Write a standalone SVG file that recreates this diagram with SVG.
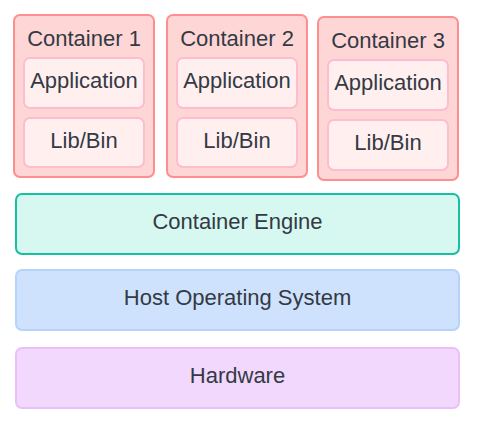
<svg xmlns="http://www.w3.org/2000/svg" width="478" height="425" viewBox="0 0 478 425">
<style>
text{font-family:"Liberation Sans",Arial,sans-serif;font-size:22px;fill:#333a44;text-anchor:middle;dominant-baseline:central}
.ctr{fill:#ffd6d6;stroke:#ff8e8e;stroke-width:2}
.inner{fill:#ffefef;stroke:#ffbccf;stroke-width:2}
.eng{fill:#d6f8f1;stroke:#17c0a0;stroke-width:2}
.os{fill:#cfe2fd;stroke:#b5d4fb;stroke-width:2}
.hw{fill:#f2d8fd;stroke:#ebbffa;stroke-width:2}
</style>
<rect width="478" height="425" fill="#ffffff"/>
<g id="container1">
<rect class="ctr" x="14" y="15" width="140" height="162" rx="6"/>
<text x="84" y="38">Container 1</text>
<g id="app1"><rect class="inner" x="24" y="58" width="120" height="50" rx="6"/><text x="84" y="80">Application</text></g>
<g id="lib1"><rect class="inner" x="24" y="118" width="120" height="49" rx="6"/><text x="84" y="140">Lib/Bin</text></g>
</g>
<g id="container2">
<rect class="ctr" x="167" y="15" width="140" height="162" rx="6"/>
<text x="237" y="38">Container 2</text>
<g id="app2"><rect class="inner" x="177" y="58" width="120" height="50" rx="6"/><text x="237" y="80">Application</text></g>
<g id="lib2"><rect class="inner" x="177" y="118" width="120" height="49" rx="6"/><text x="237" y="140">Lib/Bin</text></g>
</g>
<g id="container3">
<rect class="ctr" x="318" y="17" width="140" height="163" rx="6"/>
<text x="388" y="40">Container 3</text>
<g id="app3"><rect class="inner" x="328" y="60" width="120" height="50" rx="6"/><text x="388" y="82">Application</text></g>
<g id="lib3"><rect class="inner" x="328" y="120" width="120" height="50" rx="6"/><text x="388" y="142">Lib/Bin</text></g>
</g>
<g id="engine"><rect class="eng" x="16" y="194" width="443" height="60" rx="6"/><text x="237.5" y="221">Container Engine</text></g>
<g id="hostos"><rect class="os" x="16" y="270" width="443" height="60" rx="6"/><text x="237.5" y="297">Host Operating System</text></g>
<g id="hardware"><rect class="hw" x="16" y="348" width="443" height="60" rx="6"/><text x="237.5" y="375">Hardware</text></g>
<g id="connectors"/>
</svg>
